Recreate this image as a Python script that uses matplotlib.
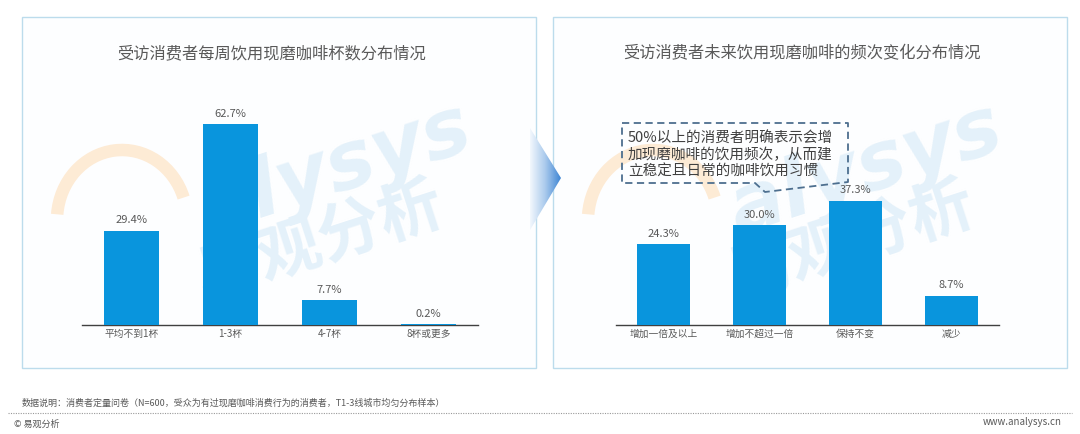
import matplotlib
matplotlib.use("Agg")
import matplotlib.pyplot as plt
import numpy as np
from matplotlib.patches import Rectangle, Polygon, Arc
from matplotlib.lines import Line2D
from matplotlib.colors import LinearSegmentedColormap

plt.rcParams['font.family'] = ['Noto Sans CJK SC', 'DejaVu Sans']

# ---------------- data ----------------
left_title = "受访消费者每周饮用现磨咖啡杯数分布情况"
left_categories = ["平均不到1杯", "1-3杯", "4-7杯", "8杯或更多"]
left_values = [29.4, 62.7, 7.7, 0.2]

right_title = "受访消费者未来饮用现磨咖啡的频次变化分布情况"
right_categories = ["增加一倍及以上", "增加不超过一倍", "保持不变", "减少"]
right_values = [24.3, 30.0, 37.3, 8.7]

callout_text = "50%以上的消费者明确表示会增\n加现磨咖啡的饮用频次，从而建\n立稳定且日常的咖啡饮用习惯"
footnote = "数据说明：消费者定量问卷（N=600，受众为有过现磨咖啡消费行为的消费者，T1-3线城市均匀分布样本）"
source_left = "© 易观分析"
source_right = "www.analysys.cn"

BAR = "#0995DD"
TXT = "#595959"

W, H = 1080, 434
fig = plt.figure(figsize=(W / 100, H / 100), dpi=100)
fig.patch.set_facecolor("white")

# background axes in pixel coordinates
bg = fig.add_axes([0, 0, 1, 1], zorder=-5)
bg.set_xlim(0, W)
bg.set_ylim(H, 0)
bg.axis("off")

# panels
for x0, x1 in [(22, 536), (553, 1067)]:
    bg.add_patch(Rectangle((x0, 17), x1 - x0, 351, facecolor="#fdfeff",
                           edgecolor="#bcdcec", lw=1.0, zorder=1))

# watermarks
for dx in [0, 531]:
    bg.add_patch(Arc((122 + dx, 220), 130, 140, angle=0, theta1=185, theta2=340,
                     color="#fdebd5", lw=9, zorder=2))
    bg.text(335 + dx, 170, "alysys", fontsize=58, color="#e4f1fa", rotation=18,
            ha="center", va="center", fontweight="bold", style="italic",
            family="DejaVu Sans", zorder=2)
    bg.text(320 + dx, 242, "易观分析", fontsize=46, color="#e4f1fa", rotation=18,
            ha="center", va="center", fontweight="bold", zorder=2)

# gradient arrow between panels
grad = np.linspace(0, 1, 64)[None, :]
cmap = LinearSegmentedColormap.from_list("g", ["#f2f7fd", "#a9c9ec", "#3f86d4"])
im = bg.imshow(grad, cmap=cmap, extent=(530, 561, 230, 127), aspect="auto", zorder=3)
tri = Polygon([(530, 128), (561, 178), (530, 230)], closed=True, transform=bg.transData,
              facecolor="none", edgecolor="none")
bg.add_patch(tri)
im.set_clip_path(tri)

# titles
bg.text(272, 54, left_title, fontsize=11.7, color="#595959", ha="center", va="center", zorder=4)
bg.text(802, 54, right_title, fontsize=11.7, color="#595959", ha="center", va="center", zorder=4)

# footer
bg.text(22, 403, footnote, fontsize=6.5, color="#595959", ha="left", va="center")
bg.add_line(Line2D([8, 1072], [413, 413], color="#999999", lw=0.8, ls=(0, (1, 1.2))))
bg.text(14, 424, source_left, fontsize=6.5, color="#595959", ha="left", va="center")
bg.text(1062, 422, source_right, fontsize=7, color="#595959", ha="right", va="center")


def make_bars(rect_px, cats, vals, ymax, width):
    x0, x1, ytop, ybot = rect_px
    ax = fig.add_axes([x0 / W, 1 - ybot / H, (x1 - x0) / W, (ybot - ytop) / H])
    ax.patch.set_alpha(0)
    pos = np.arange(len(cats))
    bars = ax.bar(pos, vals, width=width, color=BAR, zorder=3)
    ax.set_xlim(-0.5, len(cats) - 0.5)
    ax.set_ylim(0, ymax)
    for s in ["top", "right", "left"]:
        ax.spines[s].set_visible(False)
    ax.spines["bottom"].set_color("#404040")
    ax.spines["bottom"].set_linewidth(1.0)
    ax.set_yticks([])
    ax.set_xticks(pos)
    ax.set_xticklabels(cats, fontsize=7, color=TXT)
    ax.tick_params(axis="x", length=0, pad=3)
    for b, v in zip(bars, vals):
        ax.annotate(f"{v:.1f}%", (b.get_x() + b.get_width() / 2, v),
                    xytext=(0, 4), textcoords="offset points",
                    ha="center", va="bottom", fontsize=8, color=TXT)
    return ax


axL = make_bars((82, 478, 100, 325), left_categories, left_values, 225 / 3.2, 0.556)
axR = make_bars((616, 999, 100, 325), right_categories, right_values, 225 / 3.33, 0.555)

# callout box (dashed speech bubble)
callout = [(622, 123), (848, 123), (848, 182), (765, 192), (755, 183), (622, 183), (622, 123)]
xs, ys = zip(*callout)
over = fig.add_axes([0, 0, 1, 1], zorder=10)
over.set_xlim(0, W)
over.set_ylim(H, 0)
over.axis("off")
over.plot(xs, ys, color="#4d6f8f", lw=1.3, ls=(0, (4, 2.5)))
over.text(628, 155, callout_text, fontsize=10.5, color="#404040", ha="left", va="center",
          linespacing=1.2)

fig.savefig("out.png", dpi=100)
